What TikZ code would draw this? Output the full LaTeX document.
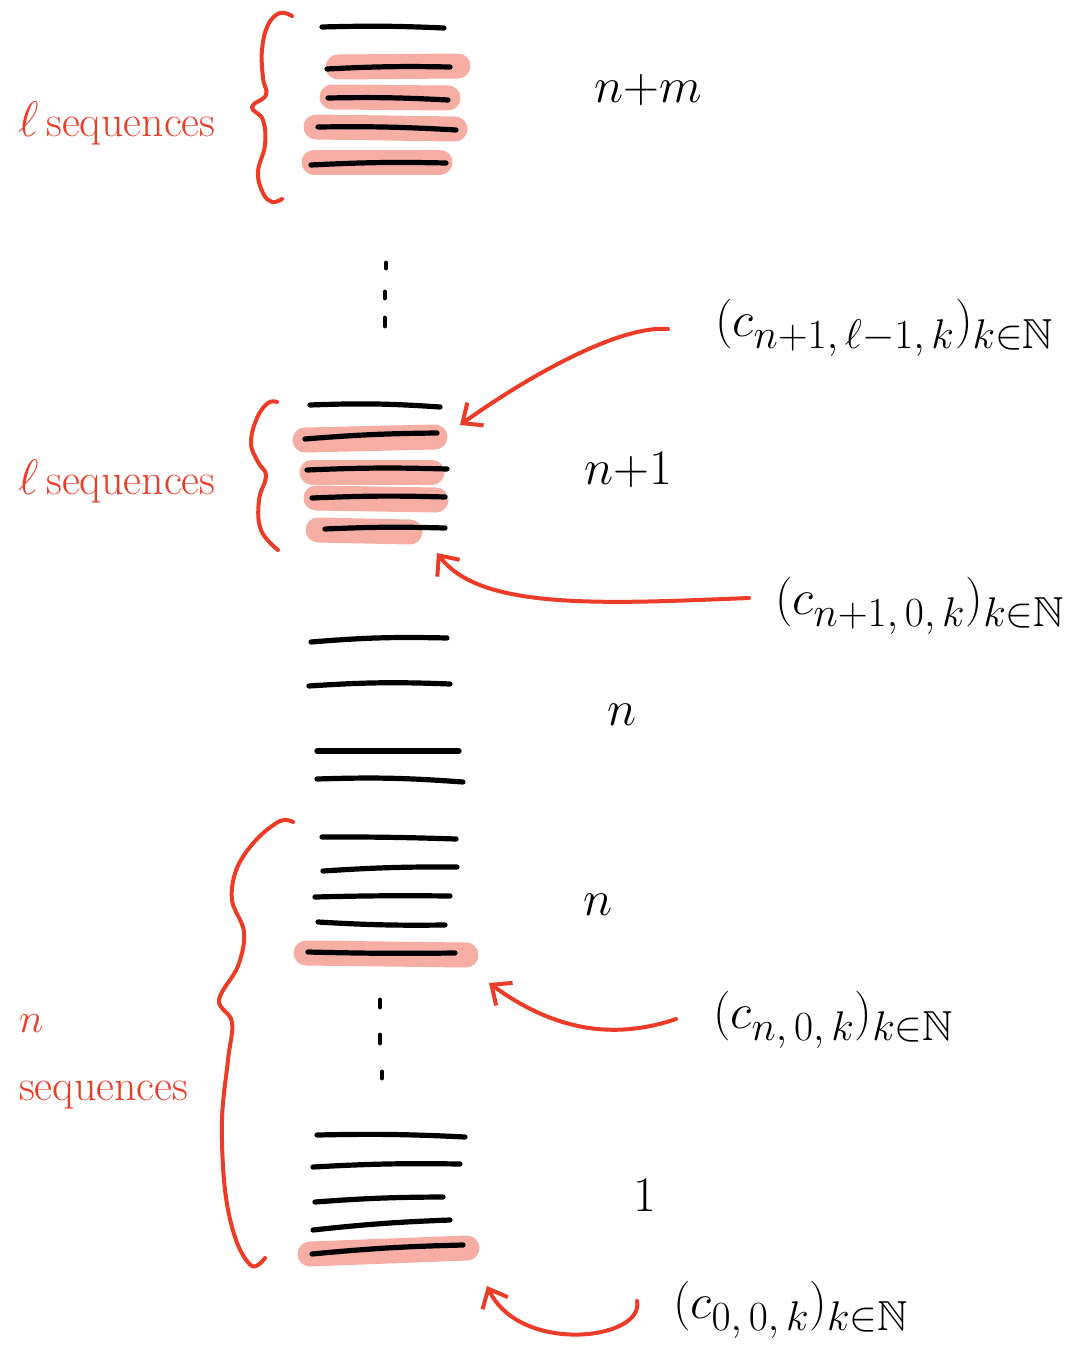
\documentclass[tikz,border=0pt]{standalone}
\usepackage{amssymb}
\usetikzlibrary{arrows.meta}
\definecolor{pen}{HTML}{EC3B26}
\definecolor{marker}{HTML}{F6ADA3}
\tikzset{
  seqline/.style={line width=2.6pt, line cap=round, black},
  hl/.style={line width=12.5pt, line cap=round, marker},
  brace/.style={line width=2pt, line cap=round, pen},
  arr/.style={line width=2pt, line cap=round, pen, -{Straight Barb[length=8pt,width=14pt,line width=2pt]}},
  grouplabel/.style={pen, font=\fontsize{22}{26}\selectfont, align=left},
  level/.style={black, font=\fontsize{27}{30}\selectfont},
  seqname/.style={black, font=\fontsize{30}{34}\selectfont, anchor=west},
  dot/.style={line width=2.4pt, line cap=round, black}
}
\begin{document}
\begin{tikzpicture}[x=0.5pt, y=-0.5pt]
\useasboundingbox (0,0) rectangle (1090,1359);

% ---- level n+m ----
\draw[hl] (338,67) -- (458,66);
\draw[hl] (332,97) -- (448,98);
\draw[hl] (316,127) -- (455,129);
\draw[hl] (314,162) -- (440,162);
\draw[seqline] (322,27) to[bend left=2] (444,28);
\draw[seqline] (327,69) to[bend left=2] (450,67);
\draw[seqline] (328,98) to[bend left=2] (448,100);
\draw[seqline] (318,127) to[bend left=2] (456,130);
\draw[seqline] (311,165) to[bend left=2] (446,163);
\draw[brace] plot[smooth, tension=0.7] coordinates {(292,16) (280,13) (268,25) (262,50) (263,78) (266,95) (252,107) (263,120) (265,145) (258,172) (263,193) (272,202) (282,199)};
\node[grouplabel] (lseqA) at (117,124) {{\fontsize{40}{40}\selectfont$\ell$}\,sequences};
\node[level] (lvNM) at (648,90) {$n{+}m$};

% ---- vertical dots ----
\draw[dot] (386,263) -- (386,268);
\draw[dot] (385,292) -- (385,298);
\draw[dot] (385,318) -- (385,326);

% ---- level n+1 ----
\draw[hl] (305,440) -- (435,437);
\draw[hl] (312,472) -- (432,472);
\draw[hl] (316,498) -- (436,500);
\draw[hl] (318,530) -- (410,532);
\draw[seqline] (310,405) to[bend left=3] (440,407);
\draw[seqline] (305,439) to[bend left=2] (437,433);
\draw[seqline] (307,470) to[bend left=2] (447,469);
\draw[seqline] (312,498) to[bend left=2] (445,497);
\draw[seqline] (325,529) to[bend left=2] (445,528);
\draw[brace] plot[smooth, tension=0.7] coordinates {(277,402) (268,403) (257,418) (251,443) (258,462) (266,476) (259,500) (261,530) (278,550)};
\node[grouplabel] (lseqB) at (117,482) {{\fontsize{40}{40}\selectfont$\ell$}\,sequences};
\node[level] (lvN1) at (628,470) {$n{+}1$};

% ---- level n ----
\draw[seqline] (311,642) to[bend left=3] (447,638);
\draw[seqline] (309,686) to[bend left=3] (450,684);
\draw[seqline] (317,751) -- (459,751);
\draw[seqline] (317,779) to[bend left=3] (463,782);
\node[level] (lvN) at (622,715) {$n$};

% ---- lower group ----
\draw[hl] (306,953) -- (466,955);
\draw[seqline] (322,837) to[bend left=1] (456,839);
\draw[seqline] (323,871) to[bend left=2] (457,867);
\draw[seqline] (315,897) to[bend left=1] (450,896);
\draw[seqline] (318,922) to[bend right=2] (445,925);
\draw[seqline] (308,952) to[bend right=1] (455,953);
\node[level] (lvNb) at (598,905) {$n$};

\draw[dot] (380,1000) -- (380,1007);
\draw[dot] (380,1035) -- (380,1043);
\draw[dot] (382,1072) -- (382,1078);

% ---- level 1 ----
\draw[hl] (310,1254) -- (467,1248);
\draw[seqline] (317,1135) to[bend left=2] (465,1137);
\draw[seqline] (313,1167) to[bend left=2] (460,1164);
\draw[seqline] (315,1202) to[bend left=2] (443,1197);
\draw[seqline] (313,1230) to[bend left=2] (450,1220);
\draw[seqline] (312,1254) to[bend left=2] (463,1245);
\node[level] (lv1) at (645,1195) {$1$};

% ---- big brace for the first n sequences ----
\draw[brace] plot[smooth, tension=0.6] coordinates {(293,822) (280,821) (256,840) (237,868) (232,900) (244,932) (238,966) (219,1000) (232,1022) (228,1060) (222,1120) (225,1190) (236,1240) (252,1266) (265,1258)};
\node[grouplabel, anchor=north west] (nseq) at (12,1008) {$n$\\[8pt]sequences};

% ---- sequence names and pointers ----
\node[seqname] (s1) at (708,328) {$(c_{n+1,\,\ell-1,\,k})_{k\in\mathbb{N}}$};
\node[seqname] (s2) at (768,606) {$(c_{n+1,\,0,\,k})_{k\in\mathbb{N}}$};
\node[seqname] (s3) at (706,1020) {$(c_{n,\,0,\,k})_{k\in\mathbb{N}}$};
\node[seqname] (s4) at (666,1310) {$(c_{0,\,0,\,k})_{k\in\mathbb{N}}$};

\coordinate (p1) at (668,329);
\coordinate (t1) at (460,425);
\coordinate (p2) at (749,598);
\coordinate (t2) at (437,553);
\coordinate (p3) at (676,1019);
\coordinate (t3) at (489,983);
\coordinate (p4) at (637,1301);
\coordinate (t4) at (487,1286);

\draw[arr] (p1) .. controls (620,325) and (530,375) .. (t1);
\draw[arr] (p2) .. controls (600,604) and (480,610) .. (t2);
\draw[arr] (p3) .. controls (600,1045) and (540,1020) .. (t3);
\draw[arr] (p4) .. controls (645,1340) and (520,1355) .. (t4);
\end{tikzpicture}
\end{document}
